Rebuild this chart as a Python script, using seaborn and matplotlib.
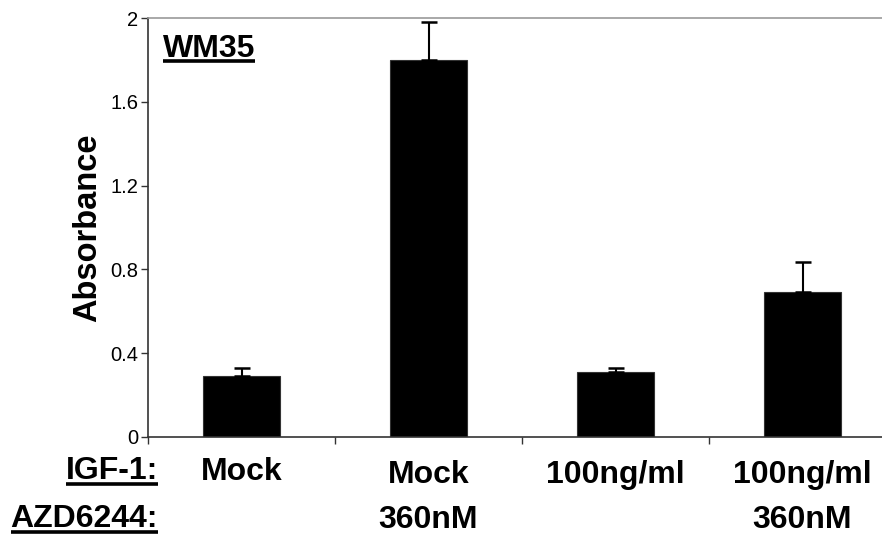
import matplotlib
matplotlib.use("Agg")
import matplotlib.pyplot as plt
from matplotlib.lines import Line2D
import seaborn as sns
import pandas as pd

# Absorbance readings per treatment (mean and upper error)
conditions = ["c1", "c2", "c3", "c4"]
igf1_labels = ["Mock", "Mock", "100ng/ml", "100ng/ml"]
azd_labels = ["", "360nM", "", "360nM"]
absorbance = [0.29, 1.80, 0.31, 0.69]
errors = [0.04, 0.18, 0.02, 0.145]
yticks = [0, 0.4, 0.8, 1.2, 1.6, 2]
ytick_labels = ["0", "0.4", "0.8", "1.2", "1.6", "2"]

sns.set_style("white")
plt.rcParams["font.family"] = ["Liberation Sans", "DejaVu Sans"]
plt.rcParams["text.color"] = "black"
plt.rcParams["axes.labelcolor"] = "black"
plt.rcParams["xtick.color"] = "black"
plt.rcParams["ytick.color"] = "black"

df = pd.DataFrame({"condition": conditions, "absorbance": absorbance})

W, H = 882, 537
fig = plt.figure(figsize=(W / 100, H / 100), dpi=100)
ax = fig.add_axes([148 / W, 1 - 437 / H, (896 - 148) / W, (437 - 18) / H])

sns.barplot(data=df, x="condition", y="absorbance", color="black",
            width=0.41, ax=ax, errorbar=None, saturation=1,
            edgecolor="#333333", linewidth=0.8)
ax.errorbar(range(len(absorbance)), absorbance,
            yerr=[[0] * len(errors), errors], fmt="none",
            ecolor="black", elinewidth=1.5, capsize=6, capthick=1.8)

ax.set_xlim(-0.5, 3.5)
ax.set_ylim(0, 2)
ax.set_yticks(yticks)
ax.set_yticklabels(ytick_labels, fontsize=14.5)
ax.set_xticks([-0.5, 0.5, 1.5, 2.5, 3.5])
ax.set_xticklabels([])
ax.tick_params(axis="both", direction="out", length=5, width=1,
               color="#333333", left=True, bottom=True, pad=2)
ax.set_xlabel("")
ax.set_ylabel("Absorbance", fontsize=23.5, fontweight="bold", labelpad=5)

for side in ["left", "bottom"]:
    ax.spines[side].set_color("#333333")
    ax.spines[side].set_linewidth(1.2)
ax.spines["top"].set_color("#999999")
ax.spines["top"].set_linewidth(1.2)
ax.spines["right"].set_visible(False)

# Treatment labels beneath each bar (baseline positions in data units)
igf_base = [-0.205, -0.2196, -0.2196, -0.2196]
for i, (a, b) in enumerate(zip(igf1_labels, azd_labels)):
    ax.text(i, igf_base[i], a, ha="center", va="baseline",
            fontsize=23, fontweight="bold", clip_on=False)
    if b:
        ax.text(i, -0.432, b, ha="center", va="baseline", fontsize=23,
                fontweight="bold", clip_on=False)

row_titles = [
    fig.text(158 / W, 1 - 479 / H, "IGF-1:", ha="right", va="baseline",
             fontsize=23, fontweight="bold"),
    fig.text(158 / W, 1 - 527 / H, "AZD6244:", ha="right", va="baseline",
             fontsize=23, fontweight="bold"),
    ax.text(0.02, 0.907, "WM35", ha="left", va="baseline", fontsize=23,
            fontweight="bold", transform=ax.transAxes),
]

# Underline the row titles and panel name, a few pixels under the baseline
fig.canvas.draw()
renderer = fig.canvas.get_renderer()
for t in row_titles:
    bb = t.get_window_extent(renderer)
    _, base_y = t.get_transform().transform(t.get_position())
    uy = base_y - 4.5
    fig.add_artist(Line2D([bb.x0 / W, bb.x1 / W], [uy / H, uy / H],
                          transform=fig.transFigure, color="black", lw=2.6,
                          solid_capstyle="butt"))

fig.savefig("out.png", dpi=100)
